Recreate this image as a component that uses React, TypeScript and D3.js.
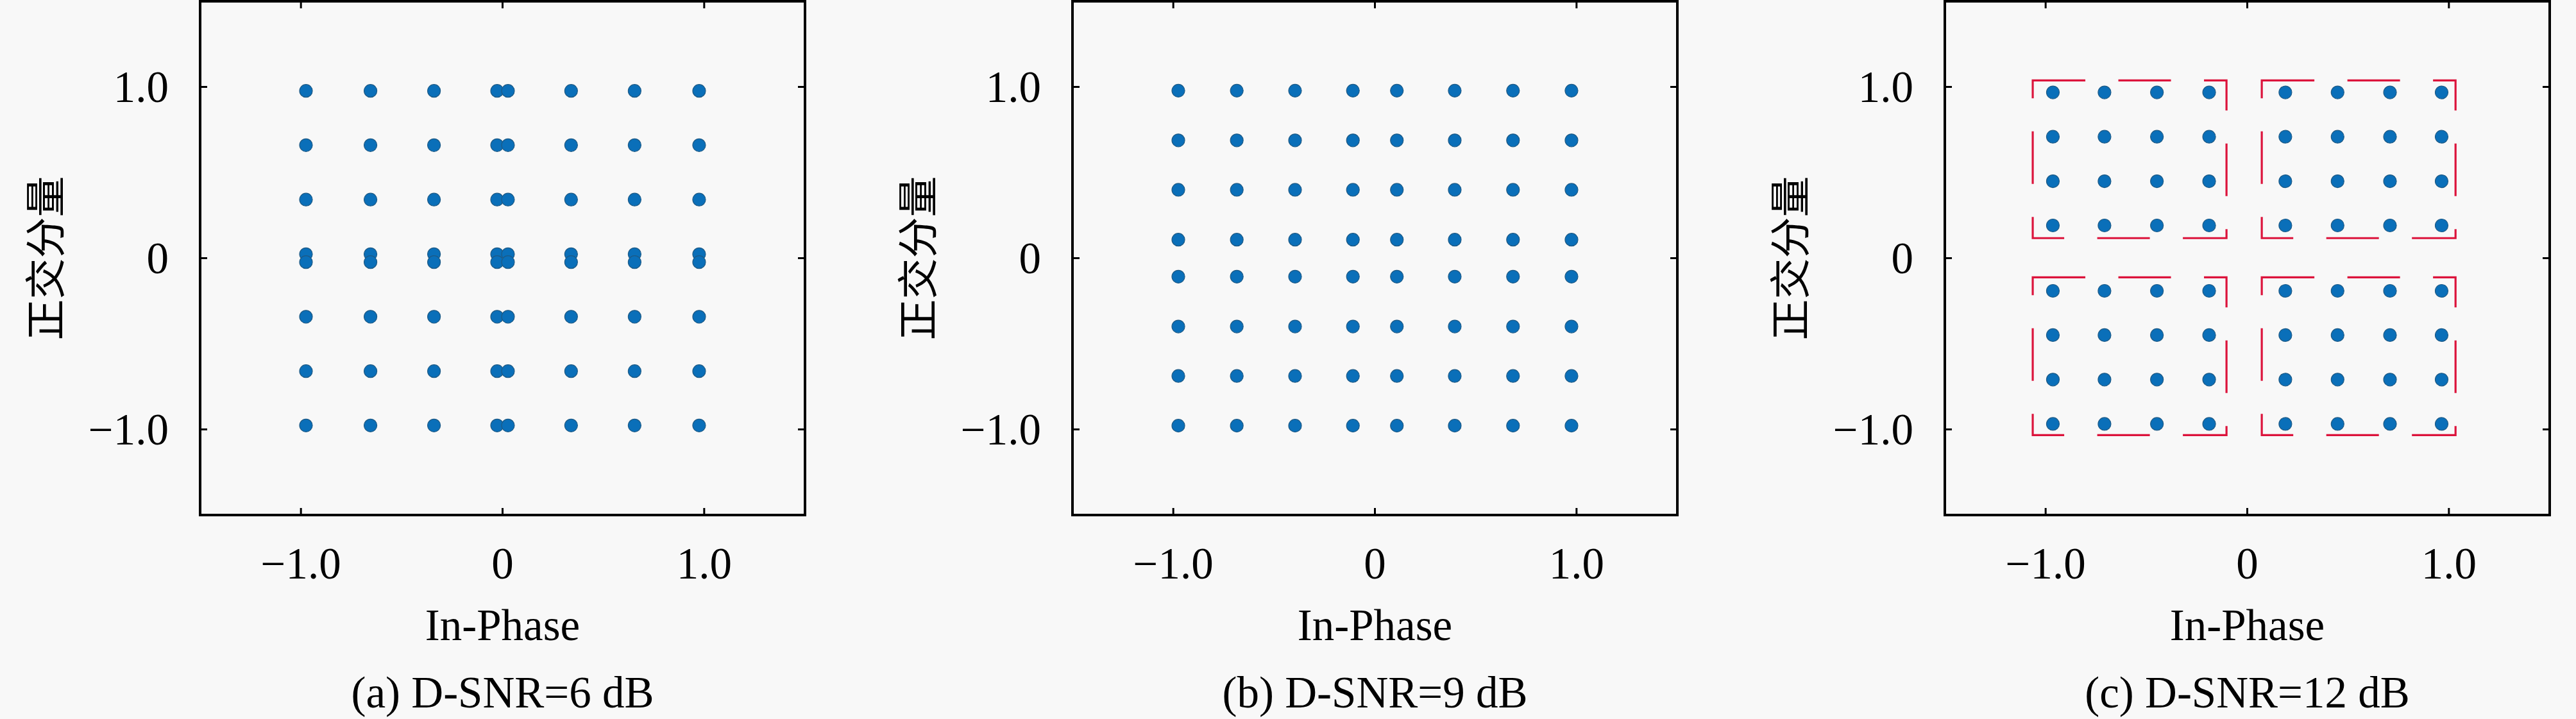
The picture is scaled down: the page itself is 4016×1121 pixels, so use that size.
import React from 'react'
import * as d3 from 'd3'

// constellation levels (same level set on each axis row/col)
const panelAX = [-0.975, -0.655, -0.34, -0.027, 0.027, 0.34, 0.655, 0.975]
const panelAY = [0.977, 0.66, 0.342, 0.023, -0.023, -0.342, -0.66, -0.977]
const panelBX = [-0.975, -0.685, -0.396, -0.109, 0.109, 0.396, 0.685, 0.975]
const panelBY = [0.978, 0.688, 0.399, 0.108, -0.108, -0.399, -0.688, -0.978]
const panelCX = [-0.964, -0.708, -0.448, -0.189, 0.189, 0.448, 0.708, 0.964]
const panelCY = [0.968, 0.709, 0.449, 0.191, -0.191, -0.449, -0.709, -0.968]

// dashed group boxes in panel (c): [x0, x1, y0, y1]
const boxesC: [number, number, number, number][] = [
  [-1.064, -0.103, 0.117, 1.038],
  [0.072, 1.033, 0.117, 1.038],
  [-1.064, -0.103, -1.033, -0.112],
  [0.072, 1.033, -1.033, -0.112],
]

const tickValues = [-1, 0, 1]
const tickLabels = ['−1.0', '0', '1.0']
const captions = ['(a) D-SNR=6 dB', '(b) D-SNR=9 dB', '(c) D-SNR=12 dB']
const xLabel = 'In-Phase'
const yLabel = '正交分量'

const W = 4016
const H = 1121
const LEFT0 = 312
const STEP = 1360
const TOP = 2
const PW = 943
const PH = 801

const BG = '#f8f8f8'
const DOT = '#0a6fb9'
const BOX = '#dc143c'
const FONT = '"Liberation Serif", "Times New Roman", serif'

type Panel = { xs: number[]; ys: number[]; boxes: [number, number, number, number][] }
const panels: Panel[] = [
  { xs: panelAX, ys: panelAY, boxes: [] },
  { xs: panelBX, ys: panelBY, boxes: [] },
  { xs: panelCX, ys: panelCY, boxes: boxesC },
]

function Scatter({ panel, index }: { panel: Panel; index: number }) {
  const x = d3.scaleLinear().domain([-1.5, 1.5]).range([0, PW])
  const y = d3.scaleLinear().domain([-1.5, 1.5]).range([PH, 0])
  const pts = d3.cross(panel.xs, panel.ys)
  const tick = 11

  return (
    <g transform={`translate(${LEFT0 + index * STEP},${TOP})`}>
      {panel.boxes.map(([x0, x1, y0, y1], i) => {
        // start at top-left corner, clockwise, so the dashes line up like the original
        const p = d3.path()
        p.moveTo(x(x0), y(y1))
        p.lineTo(x(x1), y(y1))
        p.lineTo(x(x1), y(y0))
        p.lineTo(x(x0), y(y0))
        p.closePath()
        return (
          <path key={'b' + i} d={p.toString()} fill="none" stroke={BOX}
            strokeWidth={3.2} strokeDasharray="82 51.5" />
        )
      })}
      {pts.map(([px, py], i) => (
        <circle key={i} cx={x(px)} cy={y(py)} r={10} fill={DOT}
          stroke="#1d5a86" strokeWidth={1.2} />
      ))}
      <rect x={0} y={0} width={PW} height={PH} fill="none" stroke="#000" strokeWidth={4} />
      {tickValues.map((t) => (
        <g key={'t' + t} stroke="#000" strokeWidth={3}>
          <line x1={x(t)} x2={x(t)} y1={PH} y2={PH - tick} />
          <line x1={x(t)} x2={x(t)} y1={0} y2={tick} />
          <line x1={0} x2={tick} y1={y(t)} y2={y(t)} />
          <line x1={PW} x2={PW - tick} y1={y(t)} y2={y(t)} />
        </g>
      ))}
      <g fontFamily={FONT} fontSize={69} fill="#000">
        {tickValues.map((t, i) => (
          <text key={'xl' + t} x={x(t)} y={PH + 99} textAnchor="middle">{tickLabels[i]}</text>
        ))}
        {tickValues.map((t, i) => (
          <text key={'yl' + t} x={-49} y={y(t) + 23} textAnchor="end">{tickLabels[i]}</text>
        ))}
        <text x={PW / 2} y={PH + 195} textAnchor="middle">{xLabel}</text>
        <text x={PW / 2} y={PH + 300} textAnchor="middle">{captions[index]}</text>
      </g>
      <text transform={`translate(${-218},${PH / 2}) rotate(-90)`} textAnchor="middle"
        fontFamily='"Noto Sans CJK SC", sans-serif' fontSize={64} fill="#000">{yLabel}</text>
    </g>
  )
}

export default function App() {
  return (
    <svg width={W} height={H} viewBox={`0 0 ${W} ${H}`}
      style={{ position: 'absolute', left: 0, top: 0, display: 'block' }}>
      <rect x={0} y={0} width={W} height={H} fill={BG} />
      {panels.map((p, i) => <Scatter key={i} panel={p} index={i} />)}
    </svg>
  )
}
